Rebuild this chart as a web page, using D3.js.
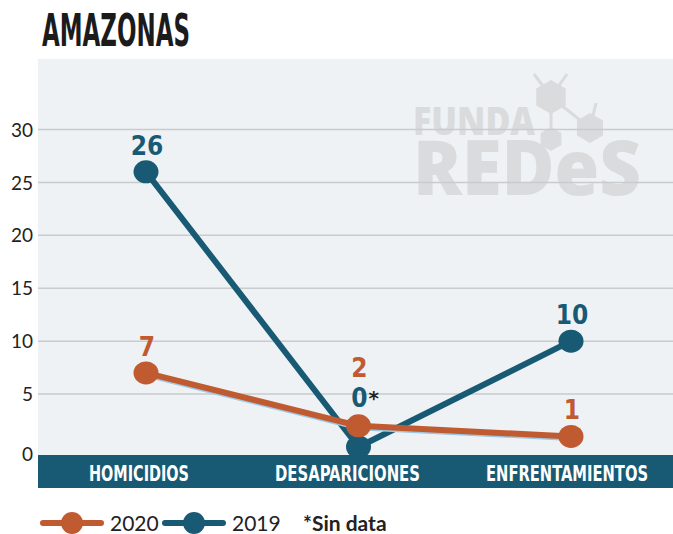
<!DOCTYPE html>
<html>
<head>
<meta charset="utf-8">
<script src="https://cdn.jsdelivr.net/npm/d3@7"></script>
<style>
  body { margin: 0; background: #fff; }
  svg { display: block; }
</style>
</head>
<body>
<div id="chart-area"></div>
<script>
// datos
let categories = ["HOMICIDIOS", "DESAPARICIONES", "ENFRENTAMIENTOS"];
let values2020 = [7, 2, 1];
let values2019 = [26, 0, 10];
let yTicks = [0, 5, 10, 15, 20, 25, 30];
let noData2019 = [false, true, false];

let W = 673, H = 534;
let teal = "#185a74", orange = "#c05a30";
let condensed = "'Liberation Sans Narrow', 'DejaVu Sans Condensed', sans-serif";

let svg = d3.select("#chart-area")
    .append("svg")
        .attr("width", W)
        .attr("height", H);

// titulo
svg.append("text")
    .attr("x", 42)
    .attr("y", 46)
    .attr("font-family", condensed)
    .attr("font-weight", "bold")
    .attr("font-size", "45px")
    .attr("fill", "#1b1b1b")
    .attr("textLength", 148)
    .attr("lengthAdjust", "spacingAndGlyphs")
    .text("AMAZONAS");

// fondo del area
let plotLeft = 38, plotTop = 59, bandTop = 455, bandBottom = 488;
svg.append("rect")
    .attr("x", plotLeft)
    .attr("y", plotTop)
    .attr("width", W - plotLeft)
    .attr("height", bandTop - plotTop)
    .attr("fill", "#eef2f4");

// marca de agua
let wm = svg.append("g").attr("fill", "#d9dbdd").attr("stroke", "none");
wm.append("text")
    .attr("x", 413).attr("y", 135)
    .attr("font-family", "'Open Sans', sans-serif")
    .attr("font-weight", 800)
    .attr("font-size", "38px")
    .attr("textLength", 122)
    .attr("lengthAdjust", "spacingAndGlyphs")
    .text("FUNDA");
wm.append("text")
    .attr("x", 413).attr("y", 195)
    .attr("font-family", "'Open Sans', sans-serif")
    .attr("font-weight", 800)
    .attr("font-size", "76px")
    .attr("textLength", 228)
    .attr("lengthAdjust", "spacingAndGlyphs")
    .text("REDeS");
let hexes = [[551, 97, 17], [590, 128, 15], [551, 139, 12]];
let hexPath = (cx, cy, r) => d3.range(6).map(i => {
    let a = Math.PI / 3 * i + Math.PI / 6;
    return [cx + r * Math.cos(a), cy + r * Math.sin(a)];
});
wm.selectAll("line.stick")
    .data([[551, 97, 534, 74], [551, 97, 567, 74], [590, 128, 596, 103], [551, 97, 590, 128], [551, 97, 551, 139]])
    .enter().append("line")
        .attr("x1", d => d[0]).attr("y1", d => d[1])
        .attr("x2", d => d[2]).attr("y2", d => d[3])
        .attr("stroke", "#d9dbdd")
        .attr("stroke-width", 3);
wm.selectAll("polygon")
    .data(hexes)
    .enter().append("polygon")
        .attr("points", d => hexPath(d[0], d[1], d[2]).join(" "));

// escalas
let x = d3.scalePoint()
    .domain(categories)
    .range([146, 571]);

let y = d3.scaleLinear()
    .domain([0, 30])
    .range([447, 129.5]);

// lineas de cuadricula
svg.append("g")
    .selectAll("line")
    .data(yTicks.filter(d => d > 0))
    .enter().append("line")
        .attr("x1", plotLeft)
        .attr("x2", W)
        .attr("y1", d => y(d))
        .attr("y2", d => y(d))
        .attr("stroke", "#c9cbcd")
        .attr("stroke-width", 1.5);

// eje y
let yAxisCall = d3.axisLeft(y)
    .tickValues(yTicks)
    .tickSize(0)
    .tickPadding(0);

let yAxis = svg.append("g")
    .attr("class", "y axis")
    .attr("transform", "translate(33, 0)")
    .call(yAxisCall);
yAxis.select(".domain").remove();
yAxis.selectAll("text")
    .attr("font-family", "Lato, 'Open Sans', sans-serif")
    .attr("font-size", "19px")
    .attr("fill", "#222")
    .attr("dy", d => d === 0 ? "0.72em" : "0.35em");

// banda de categorias
svg.append("rect")
    .attr("x", plotLeft)
    .attr("y", bandTop)
    .attr("width", W - plotLeft)
    .attr("height", bandBottom - bandTop)
    .attr("fill", teal);

let labelWidths = [100, 145, 162];
let labelShift = [-7, -11, -4];
svg.append("g")
    .selectAll("text")
    .data(categories)
    .enter().append("text")
        .attr("x", (d, i) => x(d) + labelShift[i])
        .attr("y", bandTop + 26)
        .attr("text-anchor", "middle")
        .attr("font-family", condensed)
        .attr("font-weight", "bold")
        .attr("font-size", "21px")
        .attr("fill", "#fff")
        .attr("textLength", (d, i) => labelWidths[i])
        .attr("lengthAdjust", "spacingAndGlyphs")
        .text(d => d);

// series
let pts2019 = categories.map((c, i) => ({ c: c, v: values2019[i], i: i }));
let pts2020 = categories.map((c, i) => ({ c: c, v: values2020[i], i: i }));

let line = d3.line()
    .x(d => x(d.c))
    .y(d => y(d.v));

function drawSeries(pts, color, shadow) {
    let g = svg.append("g");
    if (shadow) {
        g.append("path")
            .datum(pts)
            .attr("d", line)
            .attr("transform", "translate(0, 1.5)")
            .attr("fill", "none")
            .attr("stroke", "#9cc8e4")
            .attr("stroke-width", 6);
    }
    g.append("path")
        .datum(pts)
        .attr("d", line)
        .attr("fill", "none")
        .attr("stroke", color)
        .attr("stroke-width", 6)
        .attr("stroke-linejoin", "round");
    g.selectAll("ellipse")
        .data(pts)
        .enter().append("ellipse")
            .attr("cx", d => x(d.c))
            .attr("cy", d => y(d.v))
            .attr("rx", 12.5)
            .attr("ry", 11.5)
            .attr("fill", color);
}

drawSeries(pts2019, teal, false);
drawSeries(pts2020, orange, true);

// etiquetas de valores
let valueFont = {
    "font-family": condensed,
    "font-weight": "bold",
    "font-size": "26px"
};
function labelY(d, series) {
    if (noData2019[d.i]) {
        let base = y(Math.min(values2019[d.i], values2020[d.i])) - 40;
        return series === 2019 ? base : base - 30;
    }
    return y(d.v) - 17;
}
[[pts2019, teal, 2019], [pts2020, orange, 2020]].forEach(([pts, color, s]) => {
    let t = svg.append("g")
        .selectAll("text")
        .data(pts)
        .enter().append("text")
            .attr("x", d => x(d.c) + 1)
            .attr("y", d => labelY(d, s))
            .attr("text-anchor", "middle")
            .attr("fill", color)
            .text(d => d.v);
    Object.entries(valueFont).forEach(([k, v]) => t.attr(k, v));
});
// asterisco de "sin data"
svg.append("g")
    .selectAll("text")
    .data(pts2019.filter(d => noData2019[d.i]))
    .enter().append("text")
        .attr("x", d => x(d.c) + 10)
        .attr("y", d => labelY(d, 2019) - 2)
        .attr("font-family", "'DejaVu Sans', sans-serif")
        .attr("font-weight", "bold")
        .attr("font-size", "20px")
        .attr("fill", "#222")
        .text("*");

// leyenda
let legendItems = [
    { label: "2020", color: orange, x: 43 },
    { label: "2019", color: teal, x: 165 }
];
let legend = svg.append("g");
legendItems.forEach(item => {
    legend.append("line")
        .attr("x1", item.x).attr("x2", item.x + 58)
        .attr("y1", 523).attr("y2", 523)
        .attr("stroke", item.color)
        .attr("stroke-width", 6)
        .attr("stroke-linecap", "round");
    legend.append("circle")
        .attr("cx", item.x + 29).attr("cy", 523)
        .attr("r", 11)
        .attr("fill", item.color);
    legend.append("text")
        .attr("x", item.x + 67).attr("y", 531)
        .attr("font-family", "Lato, 'Open Sans', sans-serif")
        .attr("font-size", "21px")
        .attr("fill", "#222")
        .text(item.label);
});
legend.append("text")
    .attr("x", 303).attr("y", 531)
    .attr("font-family", "Lato, 'Open Sans', sans-serif")
    .attr("font-weight", "bold")
    .attr("font-size", "21px")
    .attr("fill", "#222")
    .text("*Sin data");
</script>
</body>
</html>
